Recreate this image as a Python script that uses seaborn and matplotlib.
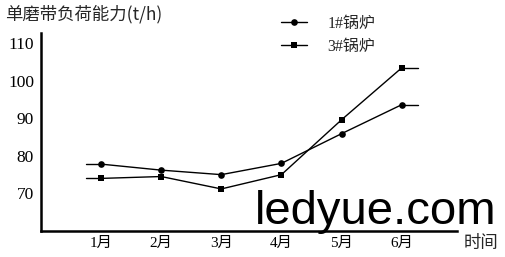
import matplotlib
matplotlib.use("Agg")
import matplotlib.pyplot as plt
import seaborn as sns
import pandas as pd
from matplotlib.lines import Line2D

months = [1, 2, 3, 4, 5, 6]
month_labels = ["1月", "2月", "3月", "4月", "5月", "6月"]
boiler1 = [77.8, 76.2, 75.0, 78.0, 85.9, 93.6]
boiler3 = [74.0, 74.5, 71.2, 75.0, 89.6, 103.4]
series_names = ["1#锅炉", "3#锅炉"]
yticks = [70, 80, 90, 100, 110]

sns.set_theme(style="white")
plt.rcParams['font.family'] = ['Liberation Serif', 'Noto Sans CJK SC', 'DejaVu Sans']

df = pd.DataFrame({
    "month": months * 2,
    "value": boiler1 + boiler3,
    "series": [series_names[0]] * len(months) + [series_names[1]] * len(months),
})

fig = plt.figure(figsize=(5.05, 2.57), dpi=100)
ax = fig.add_axes([0.081, 0.101, 0.824, 0.771])

sns.lineplot(data=df, x="month", y="value", style="series", markers=["o", "s"],
             dashes=False, color="black", linewidth=1.0, markersize=4.8,
             markeredgewidth=0, ax=ax, legend=False)

# horizontal stubs at ends
for vals in (boiler1, boiler3):
    ax.plot([months[0] - 0.25, months[0]], [vals[0], vals[0]], color="black", lw=1.0)
    ax.plot([months[-1], months[-1] + 0.27], [vals[-1], vals[-1]], color="black", lw=1.0)

ax.set_xlim(0, 6.92)
ax.set_ylim(60, 112.7)
ax.set_xticks(months)
ax.set_xticklabels(month_labels, fontsize=11)
ax.set_yticks(yticks)
ax.set_yticklabels([str(v) for v in yticks], fontsize=12.5)
ax.set_xlabel("")
ax.set_ylabel("")
for s in ["top", "right"]:
    ax.spines[s].set_visible(False)
for s in ["left", "bottom"]:
    ax.spines[s].set_color("black")
    ax.spines[s].set_linewidth(1.8)
ax.tick_params(axis="y", direction="out", length=4, width=1.5, colors="black", pad=1)
ax.tick_params(axis="x", direction="in", length=4, width=1.2, colors="black", pad=4)
ax.grid(False)

handles = [Line2D([], [], color="black", lw=1.0, marker="o", markersize=4.8, markeredgewidth=0),
           Line2D([], [], color="black", lw=1.0, marker="s", markersize=4.8, markeredgewidth=0)]
fig.legend(handles, series_names, loc="upper left", bbox_to_anchor=(0.528, 0.995),
           frameon=False, fontsize=11.5, handlelength=1.6, handletextpad=1.3,
           labelspacing=0.45)

fig.text(0.01, 0.945, "单磨带负荷能力(t/h)", fontsize=12.5, ha="left", va="center",
         family=['Noto Sans CJK SC', 'DejaVu Sans'])
fig.text(0.918, 0.055, "时间", fontsize=12.5, ha="left", va="center",
         family=['Noto Sans CJK SC', 'DejaVu Sans'])
fig.text(0.505, 0.175, "ledyue.com", fontsize=34, ha="left", va="center",
         family=['Liberation Sans', 'DejaVu Sans'], color="black")

fig.savefig("out.png", dpi=100)
